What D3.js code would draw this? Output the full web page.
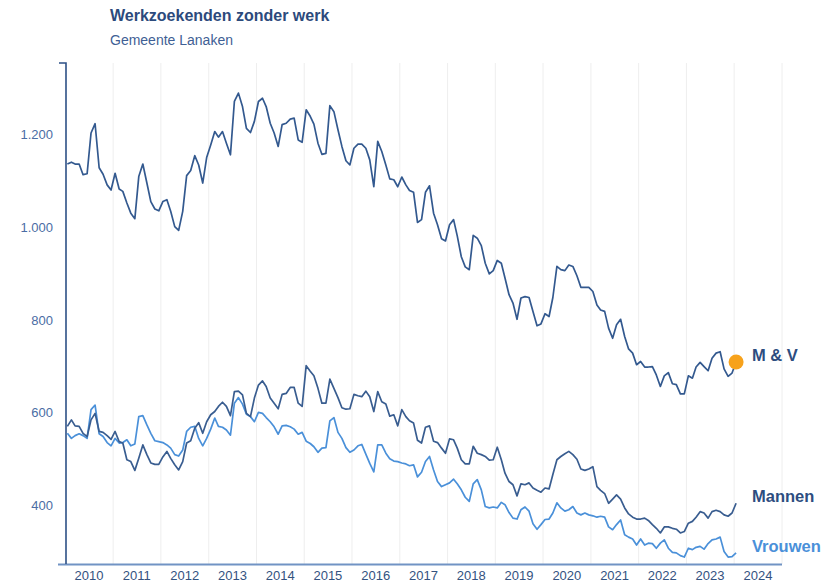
<!DOCTYPE html>
<html lang="nl">
<head>
<meta charset="utf-8">
<title>Werkzoekenden zonder werk</title>
<script src="https://cdn.jsdelivr.net/npm/d3@7"></script>
<style>
body { margin: 0; background: #fff; }
.canvas { font-family: "Liberation Sans", Arial, sans-serif; }
.grid line { stroke: #eeeeee; stroke-width: 1; }
.ylabel { fill: #4a6da4; font-size: 13px; text-anchor: end; }
.xlabel { fill: #34527f; font-size: 13px; text-anchor: middle; }
.serie { fill: none; stroke-width: 1.7; stroke-linejoin: round; }
</style>
</head>
<body>
<svg class="canvas"></svg>
<script>
// maandcijfers jan 2010 - jan 2024
var firstMonth = new Date(2010, 0, 1);
var lastMonth = new Date(2024, 0, 1);

var mv = [
  1137, 1141, 1137, 1137, 1114, 1116, 1204, 1224, 1129, 1115, 1092, 1081,
  1117, 1083, 1078, 1053, 1031, 1019, 1110, 1137, 1096, 1056, 1040, 1036,
  1056, 1060, 1035, 1002, 994, 1035, 1112, 1123, 1155, 1135, 1096, 1151,
  1178, 1207, 1195, 1207, 1182, 1157, 1272, 1290, 1261, 1214, 1205, 1229,
  1272, 1279, 1261, 1225, 1204, 1175, 1222, 1225, 1234, 1236, 1189, 1184,
  1254, 1240, 1223, 1182, 1158, 1160, 1263, 1250, 1211, 1175, 1144, 1135,
  1171, 1180, 1180, 1171, 1146, 1088, 1186, 1164, 1135, 1105, 1103, 1088,
  1109, 1092, 1080, 1076, 1011, 1017, 1076, 1090, 1031, 1006, 976, 971,
  1006, 1017, 982, 937, 915, 909, 983, 977, 961, 923, 900, 907,
  929, 923, 891, 855, 837, 802, 848, 851, 849, 819, 788, 792,
  814, 808, 849, 916, 909, 907, 919, 916, 896, 871, 871, 871,
  862, 833, 822, 819, 783, 761, 790, 802, 765, 738, 729, 704,
  711, 699, 699, 700, 682, 657, 680, 687, 663, 661, 641, 641,
  680, 675, 699, 709, 700, 691, 718, 729, 732, 695, 679, 686,
  710
];

var mannen = [
  571, 585, 572, 571, 556, 549, 585, 599, 560, 558, 551, 543,
  560, 538, 535, 499, 495, 476, 502, 531, 510, 492, 489, 489,
  505, 517, 502, 488, 477, 495, 535, 540, 567, 579, 556, 581,
  596, 603, 614, 623, 614, 594, 646, 647, 639, 599, 592, 632,
  660, 669, 657, 632, 621, 609, 640, 642, 655, 655, 621, 614,
  702, 690, 680, 653, 621, 621, 673, 653, 633, 611, 608, 609,
  640, 637, 635, 647, 635, 603, 646, 624, 619, 593, 596, 572,
  607, 592, 583, 578, 541, 535, 569, 572, 539, 536, 524, 513,
  544, 542, 524, 499, 490, 490, 528, 513, 510, 506, 498, 499,
  526, 499, 470, 452, 445, 421, 447, 445, 449, 438, 433, 429,
  438, 436, 467, 499, 506, 512, 517, 510, 500, 479, 476, 479,
  484, 441, 433, 426, 405, 414, 423, 414, 395, 382, 375, 371,
  371, 373, 368, 359, 351, 341, 354, 354, 351, 349, 341, 344,
  362, 366, 375, 387, 384, 373, 387, 390, 387, 380, 377, 384,
  405
];

var vrouwen = [
  556, 545, 551, 555, 551, 545, 607, 617, 555, 549, 536, 529,
  545, 535, 536, 542, 529, 533, 592, 594, 574, 556, 540, 538,
  536, 531, 524, 510, 507, 520, 560, 569, 571, 545, 529, 545,
  565, 589, 571, 569, 563, 552, 621, 633, 619, 597, 592, 581,
  601, 599, 590, 581, 570, 554, 572, 573, 570, 565, 554, 558,
  539, 534, 527, 515, 524, 525, 583, 590, 558, 545, 525, 515,
  520, 529, 532, 511, 491, 473, 531, 531, 513, 501, 496, 495,
  492, 490, 486, 488, 462, 472, 495, 506, 477, 452, 441, 445,
  449, 457, 447, 434, 418, 409, 447, 456, 434, 398, 395, 397,
  395, 407, 402, 385, 373, 371, 391, 397, 388, 361, 349, 359,
  370, 371, 384, 406, 395, 388, 391, 398, 384, 380, 384, 380,
  378, 375, 377, 375, 354, 348, 359, 369, 337, 332, 328, 315,
  328, 315, 319, 318, 308, 319, 326, 308, 299, 298, 292, 289,
  308, 305, 310, 312, 306, 318, 326, 328, 332, 301, 289, 290,
  298
];

var seriesNames = ['M & V', 'Mannen', 'Vrouwen'];
var seriesColors = ['#33598f', '#395d90', '#4a90d9'];
var labelColors = ['#2d4d80', '#2d4d80', '#4a90d9'];
var yearLabels = d3.range(2010, 2025);
var valueTicks = [400, 600, 800, 1000, 1200];

(function () {

  var width = 823, height = 586;
  var left = 66, right = 783, top = 63, bottom = 564;

  var nl = d3.formatLocale({decimal: ',', thousands: '.', grouping: [3], currency: ['€ ', '']});
  var fmt = nl.format(',d');

  var months = d3.timeMonth.range(firstMonth, d3.timeMonth.offset(lastMonth, 1));
  var midMonth = function (d) { return d3.timeDay.offset(d, 15); };

  var x = d3.scaleTime()
      .domain([new Date(2010, 0, 1), new Date(2025, 0, 1)])
      .range([left - 0.6, right - 1]);

  var y = d3.scaleLinear()
      .domain([274, 1355])
      .range([bottom, top]);

  var canvas = d3.select('.canvas')
      .attr('width', width)
      .attr('height', height);

  // titel
  canvas.append('text')
      .attr('x', 110).attr('y', 21)
      .style('font-size', '16px').style('font-weight', 'bold')
      .style('fill', '#2c4a7c')
      .text('Werkzoekenden zonder werk');
  canvas.append('text')
      .attr('x', 110).attr('y', 45)
      .style('font-size', '14px')
      .style('fill', '#3f5f95')
      .text('Gemeente Lanaken');

  // verticale rasterlijnen per jaar
  canvas.append('g').attr('class', 'grid')
    .selectAll('line')
    .data(yearLabels.slice(1).concat([2025]))
    .enter().append('line')
      .attr('x1', function (d) { return x(new Date(d, 0, 1)); })
      .attr('x2', function (d) { return x(new Date(d, 0, 1)); })
      .attr('y1', top)
      .attr('y2', bottom);

  // assen
  canvas.append('line')
      .attr('x1', 58).attr('x2', 782)
      .attr('y1', bottom + 0.5).attr('y2', bottom + 0.5)
      .style('stroke', '#7193c4').style('stroke-width', 2);
  canvas.append('path')
      .attr('d', 'M59,' + top + 'H' + left + 'V' + bottom)
      .style('fill', 'none')
      .style('stroke', '#2d5086').style('stroke-width', 1.6);

  canvas.append('g').selectAll('text')
    .data(valueTicks)
    .enter().append('text')
      .attr('class', 'ylabel')
      .attr('x', 53)
      .attr('y', function (d) { return y(d) + 4.5; })
      .text(fmt);

  canvas.append('g').selectAll('text')
    .data(yearLabels)
    .enter().append('text')
      .attr('class', 'xlabel')
      .attr('x', function (d) { return x(new Date(d, 6, 1)); })
      .attr('y', 580)
      .text(function (d) { return d; });

  // lijnen
  var line = d3.line()
      .x(function (d) { return x(midMonth(d.date)); })
      .y(function (d) { return y(d.value); });

  var series = [mv, mannen, vrouwen].map(function (vals, i) {
    return {
      name: seriesNames[i],
      color: seriesColors[i],
      labelColor: labelColors[i],
      values: vals.map(function (v, j) { return {date: months[j], value: v}; })
    };
  });

  canvas.append('g').selectAll('path')
    .data(series.slice().reverse())
    .enter().append('path')
      .attr('class', 'serie')
      .style('stroke', function (d) { return d.color; })
      .attr('d', function (d) { return line(d.values); });

  var lastOf = function (d) { return d.values[d.values.length - 1]; };

  canvas.append('circle')
      .attr('cx', x(midMonth(lastOf(series[0]).date)))
      .attr('cy', y(lastOf(series[0]).value))
      .attr('r', 7.5)
      .style('fill', '#f7a21b');

  canvas.append('g').selectAll('text')
    .data(series)
    .enter().append('text')
      .attr('x', 752)
      .attr('y', function (d) { return y(lastOf(d).value) - 1; })
      .style('font-size', '16.5px').style('font-weight', 'bold')
      .style('fill', function (d) { return d.labelColor; })
      .text(function (d) { return d.name; });

})();
</script>
</body>
</html>
